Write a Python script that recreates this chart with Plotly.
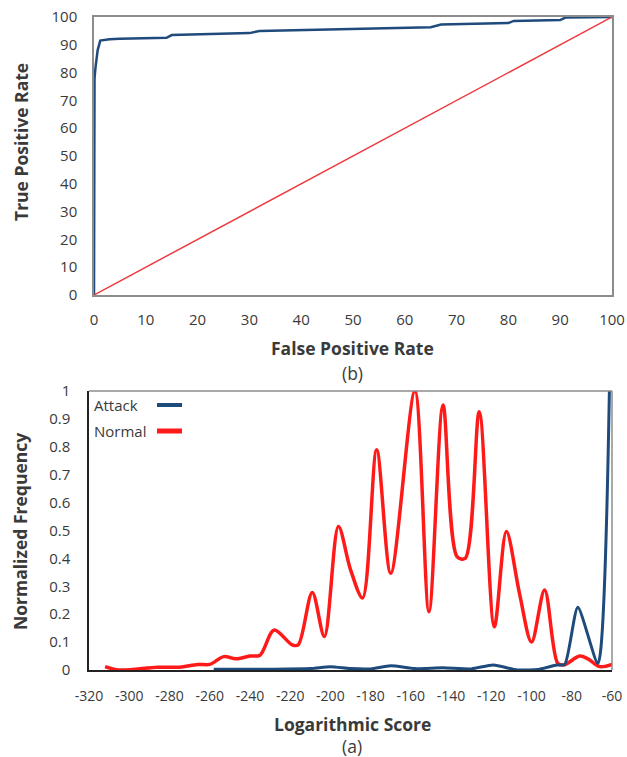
import plotly.graph_objects as go

# ---- ROC data (b) ----
fpr = [0, 0, 0.1, 0.3, 0.7, 1.2, 2, 3, 5, 10, 14, 15, 20, 30, 32, 40, 50, 60, 65, 67, 75, 80, 81, 90, 91, 100]
tpr = [0, 75, 78, 82, 88, 91.5, 91.8, 92, 92.2, 92.5, 92.5, 93.5, 93.8, 94.2, 95, 95.3, 95.6, 96, 96.3, 97.3, 97.6, 97.8, 98.6, 98.9, 99.8, 100]
diag_x = [0, 100]
diag_y = [0, 100]

# ---- Score distribution data (a) ----
normal_x = [-312, -305, -286, -275, -266, -260, -253, -247, -240, -235, -228, -219, -216, -209,
            -203, -196, -190, -184, -177, -170, -158, -151, -144, -137, -133, -126, -118.5,
            -112.5, -106, -100, -93.5, -87, -84, -76, -72, -66, -60]
normal_y = [0.012, 0.0, 0.01, 0.01, 0.02, 0.02, 0.048, 0.04, 0.05, 0.053, 0.143, 0.09, 0.09, 0.278,
            0.12, 0.514, 0.36, 0.258, 0.789, 0.347, 1.0, 0.209, 0.95, 0.406, 0.40, 0.926, 0.155,
            0.496, 0.275, 0.10, 0.287, 0.024, 0.018, 0.05, 0.04, 0.012, 0.02]
attack_x = [-258, -230, -210, -200, -190, -180, -170, -158, -144, -130, -119, -107, -96, -87.5,
            -83.5, -77, -67, -61.3]
attack_y = [0.003, 0.003, 0.005, 0.012, 0.005, 0.004, 0.015, 0.005, 0.008, 0.004, 0.018, 0.0, 0.003,
            0.018, 0.02, 0.225, 0.024, 1.0]

x_ticks_a = list(range(-320, -59, 20))
x_tick_text_a = [str(v) for v in x_ticks_a]
y_ticks_a = [round(i * 0.1, 1) for i in range(11)]
y_tick_text_a = ["0"] + [f"{v:.1f}" for v in y_ticks_a[1:-1]] + ["1"]

W, H = 627, 757
def px(x):
    return x / W
def py(y):
    return 1 - y / H

NAVY = "#1f4a7c"
RED = "#ff1a1a"
TICK = dict(family="Open Sans, Arial", size=15, color="#3a3a3a")
TICK2 = dict(family="Open Sans, Arial", size=14, color="#3a3a3a")
TITLE = dict(family="Open Sans, Arial", size=17.5, color="#3a3a3a")
LEG = dict(family="Open Sans, Arial", size=15, color="#3a3a3a")

fig = go.Figure()
fig.add_trace(go.Scatter(x=fpr, y=tpr, mode="lines", line=dict(color=NAVY, width=2.5),
                         xaxis="x", yaxis="y", showlegend=False))
fig.add_trace(go.Scatter(x=diag_x, y=diag_y, mode="lines", line=dict(color="#ee3a3f", width=1.5),
                         xaxis="x", yaxis="y", showlegend=False))
fig.add_trace(go.Scatter(x=normal_x, y=normal_y, mode="lines", line=dict(color=RED, width=3.5, shape="spline", smoothing=0.9),
                         xaxis="x2", yaxis="y2", showlegend=False))
fig.add_trace(go.Scatter(x=attack_x, y=attack_y, mode="lines", line=dict(color=NAVY, width=3, shape="spline", smoothing=0.6),
                         xaxis="x2", yaxis="y2", showlegend=False))

common = dict(showgrid=False, zeroline=False, showline=True, linewidth=1.5, ticks="", automargin=False)
fig.update_layout(
    width=W, height=H, margin=dict(l=0, r=0, t=0, b=0, autoexpand=False),
    paper_bgcolor="white", plot_bgcolor="white",
    xaxis=dict(domain=[px(94), px(612)], range=[0, 100], tickvals=list(range(0, 101, 10)),
               linecolor="#8c8c8c", mirror=True, tickfont=TICK, anchor="y", ticklabelstandoff=10, **common),
    yaxis=dict(domain=[py(295), py(17)], range=[0, 100], tickvals=list(range(0, 101, 10)),
               linecolor="#8c8c8c", mirror=True, tickfont=TICK, anchor="x", ticklabelstandoff=12, **common),
    xaxis2=dict(domain=[px(89), px(612)], range=[-320, -60], tickvals=x_ticks_a, ticktext=x_tick_text_a,
                linecolor="#222222", tickfont=TICK2, anchor="y2", ticklabelstandoff=12, **common),
    yaxis2=dict(domain=[py(670), py(391)], range=[0, 1], tickvals=y_ticks_a, ticktext=y_tick_text_a,
                linecolor="#222222", tickfont=TICK, anchor="x2", ticklabelstandoff=14, **common),
)

# gray top/right frame for bottom chart
fig.add_shape(type="line", xref="x2 domain", yref="y2 domain", x0=0, x1=1, y0=1, y1=1,
              line=dict(color="#8c8c8c", width=1.5))
fig.add_shape(type="line", xref="x2 domain", yref="y2 domain", x0=1, x1=1, y0=0, y1=1,
              line=dict(color="#8c8c8c", width=1.5))

# custom legend (text then line sample)
fig.add_annotation(text="Attack", xref="paper", yref="paper", x=px(92), y=py(405),
                   showarrow=False, xanchor="left", yanchor="middle", font=LEG)
fig.add_annotation(text="Normal", xref="paper", yref="paper", x=px(92), y=py(431),
                   showarrow=False, xanchor="left", yanchor="middle", font=LEG)
fig.add_shape(type="line", xref="paper", yref="paper", x0=px(157), x1=px(182), y0=py(405), y1=py(405),
              line=dict(color=NAVY, width=4))
fig.add_shape(type="line", xref="paper", yref="paper", x0=px(157), x1=px(182), y0=py(431), y1=py(431),
              line=dict(color=RED, width=5))

# axis titles and captions
def label(text, x, y, angle=0):
    fig.add_annotation(text=text, xref="paper", yref="paper", x=px(x), y=py(y),
                       xanchor="center", yanchor="middle", textangle=angle,
                       showarrow=False, font=TITLE)

label("<b>True Positive Rate</b>", 21, 142, -90)
label("<b>False Positive Rate</b>", 352, 348)
label("(b)", 352, 373)
label("<b>Normalized Frequency</b>", 20, 532, -90)
label("<b>Logarithmic Score</b>", 352, 724)
label("(a)", 352, 746)

fig.write_html("out.html")
